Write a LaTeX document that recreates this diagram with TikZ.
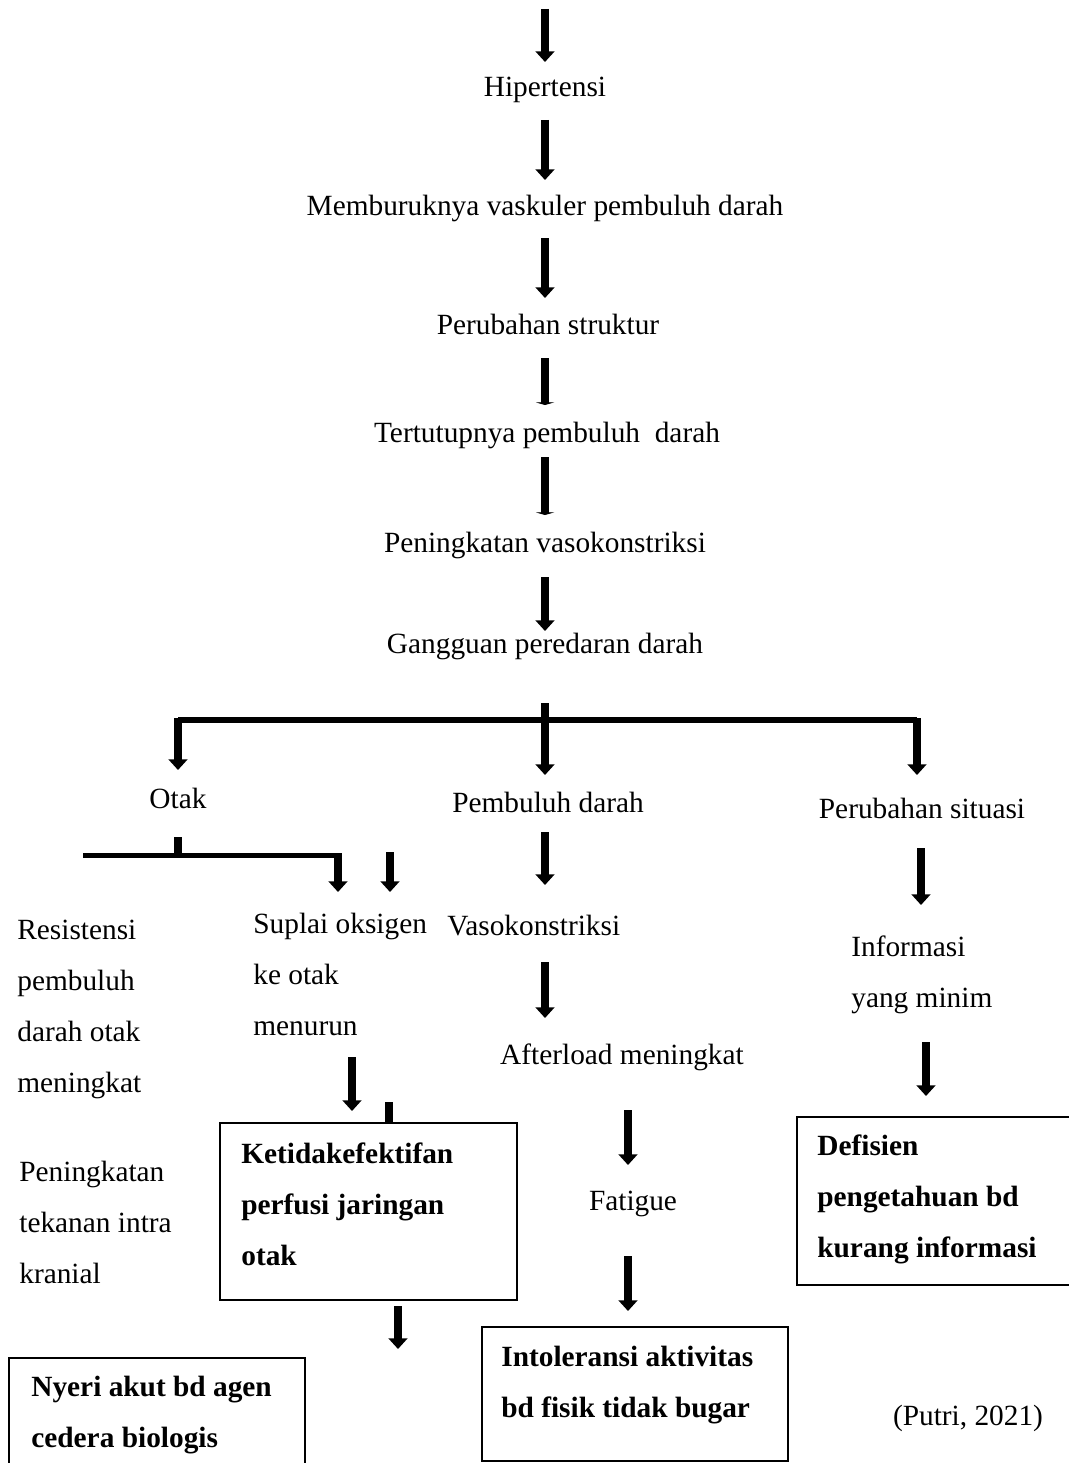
\documentclass[tikz,border=0pt]{standalone}
\usepackage{fontspec}
\setmainfont{Liberation Serif}
\usetikzlibrary{arrows.meta}
\tikzset{
  arr/.style={line width=5pt, -{Triangle[width=10.5pt,length=6pt]}},
  foot/.style={line width=5pt, -{Triangle[width=10.5pt,length=1.5pt]}},
  stub/.style={line width=5pt},
  bar/.style={line width=3.4pt},
  lbl/.style={inner sep=0pt, align=left, font=\fontsize{16.7}{29}\selectfont},
  blbl/.style={lbl, font=\fontsize{16.7}{29}\selectfont\bfseries},
  box/.style={line width=1.1pt},
}
\begin{document}
\begin{tikzpicture}[x=0.02cm,y=-0.02cm]
  \useasboundingbox (0,0) rectangle (1068,1463);
  % main chain
  \draw[arr] (545,9)--(545,62);
  \node[lbl, anchor=base] (hip) at (545,97) {Hipertensi};
  \draw[arr] (545,120)--(545,180);
  \node[lbl, anchor=base] (vask) at (545,215) {Memburuknya vaskuler pembuluh darah};
  \draw[arr] (545,238)--(545,298);
  \node[lbl, anchor=base] (strk) at (548,334) {Perubahan struktur};
  \draw[foot] (545,358)--(545,405);
  \node[lbl, anchor=base] (tutup) at (547,442) {Tertutupnya pembuluh \ darah};
  \draw[foot] (545,457)--(545,515);
  \node[lbl, anchor=base] (vaso) at (545,552) {Peningkatan vasokonstriksi};
  \draw[arr] (545,577)--(545,631);
  \node[lbl, anchor=base] (ganggu) at (545,653) {Gangguan peredaran darah};
  % branching
  \draw[stub] (545,703)--(545,720);
  \draw[bar] (178,720)--(917,720);
  \draw[arr] (178,718)--(178,770);
  \draw[arr] (545,718)--(545,775);
  \draw[arr] (917,718)--(917,775);
  \node[lbl, anchor=base] (otak) at (178,808) {Otak};
  \node[lbl, anchor=base] (pd) at (548,812) {Pembuluh darah};
  \node[lbl, anchor=base] (situ) at (922,818) {Perubahan situasi};
  % otak
  \draw[stub] (178,837)--(178,856);
  \draw[bar] (83,855.5)--(338,855.5);
  \draw[arr] (338,853)--(338,892);
  \draw[arr] (390,852)--(390,892);
  \node[lbl, anchor=base west] (resis) at (17,1092) {Resistensi\\pembuluh\\darah otak\\meningkat};
  \node[lbl, anchor=base west] (suplai) at (253,1035) {Suplai oksigen\\ke otak\\menurun};
  \node[lbl, anchor=base west] (tik) at (19,1283) {Peningkatan\\tekanan intra\\kranial};
  \draw[arr] (352,1057)--(352,1111);
  \draw[stub] (389,1102)--(389,1123);
  \draw[box] (220,1123) rectangle (517,1300);
  \node[blbl, anchor=base west] (kper) at (241,1265) {Ketidakefektifan\\perfusi jaringan\\otak};
  \draw[arr] (398,1306)--(398,1349);
  \draw[box] (9,1358) rectangle (305,1480);
  \node[blbl, anchor=base west] (nyeri) at (31,1447) {Nyeri akut bd agen\\cedera biologis};
  % pembuluh darah
  \draw[arr] (545,832)--(545,885);
  \node[lbl, anchor=base west] (vk) at (447,935) {Vasokonstriksi};
  \draw[arr] (545,962)--(545,1018);
  \node[lbl, anchor=base] (after) at (622,1064) {Afterload meningkat};
  \draw[arr] (628,1110)--(628,1165);
  \node[lbl, anchor=base] (fat) at (633,1210) {Fatigue};
  \draw[arr] (628,1256)--(628,1311);
  \draw[box] (482,1327) rectangle (788,1461);
  \node[blbl, anchor=base west] (intol) at (501,1417) {Intoleransi aktivitas\\bd fisik tidak bugar};
  % perubahan situasi
  \draw[arr] (921,848)--(921,905);
  \node[lbl, anchor=base west] (info) at (851,1007) {Informasi\\yang minim};
  \draw[arr] (926,1042)--(926,1096);
  \draw[box] (797,1117) rectangle (1080,1285);
  \node[blbl, anchor=base west] (defis) at (817,1257) {Defisien\\pengetahuan bd\\kurang informasi};
  \node[lbl, anchor=base] (src) at (968,1425) {(Putri, 2021)};
\end{tikzpicture}
\end{document}
